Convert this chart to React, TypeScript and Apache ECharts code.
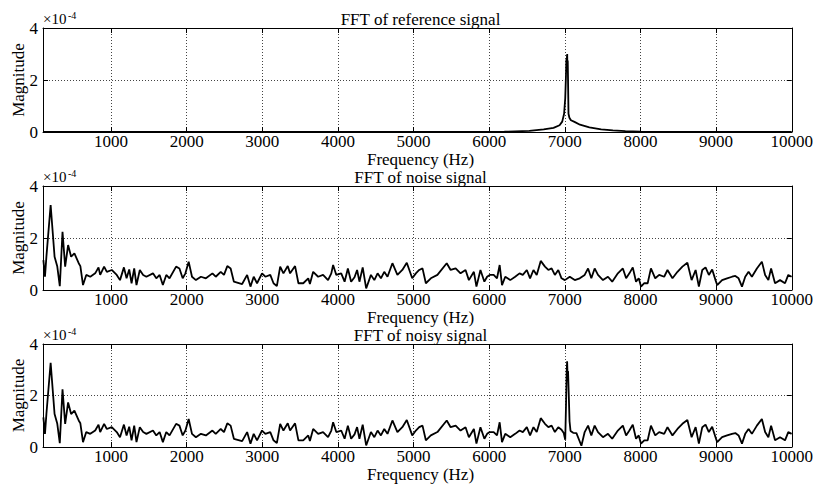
import React, { useEffect, useRef } from "react";
import * as echarts from "echarts";

// ---- data (magnitudes in units of 1e-4) ----
const freqTicks = [1000, 2000, 3000, 4000, 5000, 6000, 7000, 8000, 9000, 10000];
const magTicks = [0, 2, 4];
const plotTitles = ["FFT of reference signal", "FFT of noise signal", "FFT of noisy signal"];
const xAxisTitle = "Frequency (Hz)";
const yAxisTitle = "Magnitude";

const refFreqs = [100, 5800, 6200, 6530, 6720, 6850, 6930, 6965, 6990, 7005, 7015, 7020, 7024, 7028, 7031, 7034, 7038, 7042, 7048, 7060, 7080, 7127, 7200, 7324, 7480, 7635, 7800, 8000, 10000];
const refMags = [0, 0.003, 0.01, 0.04, 0.1, 0.16, 0.26, 0.4, 0.7, 1.3, 2.2, 2.8, 2.3, 2.9, 3.0, 2.4, 2.75, 2.0, 0.7, 0.55, 0.45, 0.39, 0.28, 0.18, 0.1, 0.06, 0.03, 0.01, 0];

const noiseFreqs = [
  105, 126, 145, 201, 253, 289, 322, 358, 393, 432, 472, 515, 572, 594, 629, 672, 725, 790, 834, 856,
  908, 944, 1009, 1075, 1118, 1170, 1205, 1240, 1271, 1306, 1336, 1380, 1424, 1467, 1554, 1598, 1642, 1685, 1730, 1773,
  1860, 1904, 1947, 1983, 2026, 2070, 2122, 2188, 2254, 2340, 2384, 2450, 2493, 2537, 2581, 2624, 2733, 2799, 2843, 2886,
  2930, 2996, 3040, 3105, 3148, 3192, 3236, 3279, 3336, 3367, 3433, 3477, 3541, 3607, 3629, 3672, 3738, 3803, 3869, 3912,
  3936, 3978, 4043, 4088, 4131, 4174, 4219, 4253, 4284, 4327, 4373, 4436, 4481, 4524, 4568, 4612, 4655, 4720, 4786, 4851,
  4910, 4982, 5030, 5074, 5118, 5162, 5228, 5315, 5438, 5490, 5556, 5621, 5687, 5731, 5797, 5831, 5884, 5936, 5972, 6007,
  6059, 6103, 6138, 6169, 6212, 6278, 6343, 6401, 6444, 6497, 6540, 6585, 6628, 6681, 6737, 6782, 6825, 6868, 6913, 6956,
  7000, 7065, 7131, 7197, 7262, 7307, 7350, 7394, 7438, 7504, 7570, 7626, 7701, 7767, 7810, 7853, 7898, 7941, 7977, 8007,
  8050, 8095, 8138, 8195, 8247, 8313, 8357, 8423, 8489, 8554, 8620, 8676, 8729, 8772, 8817, 8860, 8904, 8948, 8992, 9014,
  9079, 9145, 9211, 9254, 9297, 9342, 9385, 9429, 9473, 9539, 9605, 9648, 9691, 9727, 9779, 9845, 9911, 9954, 9998,
];
const noiseMags = [
  1.15, 0.51, 1.28, 3.27, 1.28, 0.9, 0.15, 2.24, 0.9, 1.73, 1.28, 1.41, 1.03, 0.92, 0.19, 0.58, 0.51, 0.64, 0.87, 0.58,
  0.9, 0.7, 0.77, 0.58, 0.38, 0.87, 0.45, 0.79, 0.26, 0.83, 0.19, 0.77, 0.58, 0.51, 0.64, 0.45, 0.58, 0.19, 0.58, 0.45,
  0.9, 0.83, 0.45, 0.64, 1.09, 0.51, 0.38, 0.51, 0.45, 0.64, 0.51, 0.7, 0.58, 0.92, 0.83, 0.32, 0.23, 0.58, 0.13, 0.51,
  0.26, 0.64, 0.51, 0.58, 0.26, 0.15, 0.9, 0.64, 0.92, 0.64, 0.92, 0.26, 0.26, 0.45, 0.23, 0.7, 0.51, 0.58, 0.38, 0.64,
  0.96, 0.58, 0.64, 0.32, 0.83, 0.32, 0.49, 0.77, 0.32, 0.87, 0.06, 0.58, 0.38, 0.64, 0.45, 0.7, 0.51, 1.03, 0.58, 0.77,
  1.05, 0.45, 0.64, 0.77, 0.83, 0.26, 0.45, 0.58, 1.03, 0.77, 0.83, 0.64, 0.77, 0.38, 0.7, 0.13, 0.77, 0.32, 0.51, 0.58,
  0.58, 0.45, 0.96, 0.19, 0.51, 0.38, 0.51, 0.64, 0.58, 0.77, 0.45, 0.77, 0.58, 1.12, 0.9, 0.77, 0.83, 0.58, 0.77, 0.45,
  0.38, 0.51, 0.38, 0.45, 0.58, 0.83, 0.45, 0.83, 0.58, 0.38, 0.51, 0.32, 0.64, 0.83, 0.45, 0.64, 0.87, 0.32, 0.45, 0.13,
  0.26, 0.26, 0.83, 0.45, 0.58, 0.51, 0.77, 0.45, 0.7, 0.9, 1.05, 0.38, 0.77, 0.13, 0.77, 0.87, 0.58, 0.79, 0.38, 0.19,
  0.38, 0.45, 0.51, 0.54, 0.45, 0.13, 0.51, 0.7, 0.51, 0.83, 1.09, 0.58, 0.38, 0.83, 0.26, 0.38, 0.26, 0.58, 0.51,
];

// noisy signal = same noise floor, with the tone around 7 kHz
const noisyPeakFreqs = [6956, 6985, 7005, 7015, 7024, 7030, 7035, 7042, 7050, 7062, 7075, 7110, 7153, 7219];
const noisyPeakMags = [0.67, 0.54, 0.28, 1.58, 2.9, 3.33, 2.85, 2.95, 2.2, 1.0, 0.62, 0.55, 0.54, 0.05];

// ---- layout ----
const W = 816;
const H = 487;
const gridLeft = 43;
const gridWidth = 755;
const gridTops = [28, 186, 344];
const gridHeights = [104, 104, 103];
const FONT = "'Liberation Serif', 'Times New Roman', serif";

const pairs = (f: number[], m: number[]) => f.map((x, i) => [x, m[i]]);

export default function App() {
  const ref = useRef<HTMLDivElement>(null);
  useEffect(() => {
    if (!ref.current) return;
    const chart = echarts.init(ref.current, undefined, { renderer: "svg" });

    const refData = pairs(refFreqs, refMags);
    const noiseData = pairs(noiseFreqs, noiseMags);
    const noisyData = pairs(noiseFreqs, noiseMags)
      .filter((p) => p[0] < noisyPeakFreqs[0] || p[0] > noisyPeakFreqs[noisyPeakFreqs.length - 1])
      .concat(pairs(noisyPeakFreqs, noisyPeakMags))
      .sort((a, b) => a[0] - b[0]);
    const seriesData = [refData, noiseData, noisyData];

    const gridLine = { show: true, lineStyle: { color: "#444", type: [1, 2], width: 1 } };
    const axisLine = { show: true, onZero: false, lineStyle: { color: "#000", width: 1 } };
    const tick = { show: true, inside: true, length: 5, lineStyle: { color: "#000" } };
    const fmt = (v: number) => String(v);

    const grid: any[] = [];
    const xAxis: any[] = [];
    const yAxis: any[] = [];
    const series: any[] = [];
    const graphic: any[] = [];

    for (let i = 0; i < 3; i++) {
      const top = gridTops[i];
      const h = gridHeights[i];
      grid.push({ left: gridLeft, top, width: gridWidth, height: h });
      xAxis.push({
        gridIndex: i, type: "value", min: 100, max: 10000, position: "bottom",
        axisLine, axisTick: { ...tick, customValues: freqTicks },
        axisLabel: { customValues: freqTicks, formatter: fmt, fontSize: 17, lineHeight: 14, fontFamily: FONT, color: "#000", margin: 2 },
        splitLine: gridLine,
      });
      xAxis.push({
        gridIndex: i, type: "value", min: 100, max: 10000, position: "top",
        axisLine, axisTick: { ...tick, customValues: freqTicks },
        axisLabel: { show: false }, splitLine: { show: false },
      });
      yAxis.push({
        gridIndex: i, type: "value", min: magTicks[0], max: magTicks[2], interval: magTicks[1], position: "left",
        axisLine, axisTick: tick,
        axisLabel: { formatter: fmt, fontSize: 17, lineHeight: 14, fontFamily: FONT, color: "#000", margin: 5 },
        splitLine: gridLine,
      });
      yAxis.push({
        gridIndex: i, type: "value", min: magTicks[0], max: magTicks[2], interval: magTicks[1], position: "right",
        axisLine, axisTick: tick, axisLabel: { show: false }, splitLine: { show: false },
      });
      series.push({
        type: "line", xAxisIndex: 2 * i, yAxisIndex: 2 * i, data: seriesData[i],
        showSymbol: false, symbol: "none", lineStyle: { color: "#000", width: 1.8 },
        emphasis: { disabled: true }, silent: true, clip: true,
      });

      graphic.push({
        type: "text", x: gridLeft + gridWidth / 2, y: top - 9,
        style: { text: plotTitles[i], fontSize: 17, lineHeight: 14, fontFamily: FONT, fill: "#000", align: "center", verticalAlign: "middle" },
      });
      graphic.push({
        type: "text", x: gridLeft + gridWidth / 2, y: top + h + 27.5,
        style: { text: xAxisTitle, fontSize: 17, lineHeight: 14, fontFamily: FONT, fill: "#000", align: "center", verticalAlign: "middle" },
      });
      graphic.push({
        type: "text", x: 18, y: top + h / 2, rotation: Math.PI / 2,
        style: { text: yAxisTitle, fontSize: 17, fontFamily: FONT, fill: "#000", align: "center", verticalAlign: "middle" },
      });
      graphic.push({
        type: "text", x: gridLeft, y: top - 9,
        style: { text: "\u00d710", fontSize: 15, lineHeight: 12, fontFamily: FONT, fill: "#000", align: "left", verticalAlign: "middle" },
      });
      graphic.push({
        type: "text", x: gridLeft + 25, y: top - 13,
        style: { text: "-4", fontSize: 10, lineHeight: 8, fontFamily: FONT, fill: "#000", align: "left", verticalAlign: "middle" },
      });
    }

    chart.setOption({
      animation: false,
      backgroundColor: "#fff",
      grid, xAxis, yAxis, series, graphic,
    });
    return () => chart.dispose();
  }, []);

  return <div ref={ref} style={{ position: "absolute", left: 0, top: 0, width: W, height: H }} />;
}
